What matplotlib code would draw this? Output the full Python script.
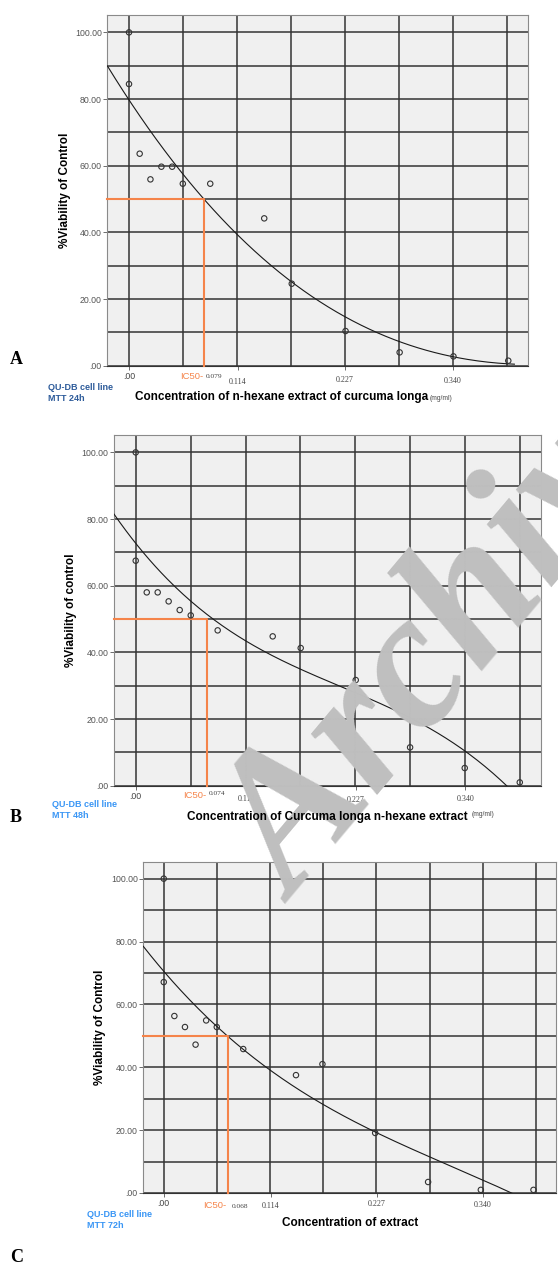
import matplotlib
matplotlib.use('Agg')
import matplotlib.pyplot as plt
import numpy as np

W, H, DPI = 558, 1264, 100

# 数据
conc_a = [0, 0, 0.0112, 0.0225, 0.034, 0.0453, 0.0565, 0.0853, 0.142, 0.1709, 0.2274, 0.2842, 0.3407, 0.3983]
viab_a = [100, 84.5, 63.6, 55.9, 59.7, 59.7, 54.6, 54.6, 44.2, 24.6, 10.4, 4.0, 2.8, 1.5]
curve_a_x = [-0.0228, 0, 0.079, 0.1134, 0.170, 0.227, 0.2597, 0.284, 0.3407, 0.398, 0.4047]
curve_a_y = [89.7, 80, 50, 39.7, 24.6, 14.9, 10, 7.2, 2.9, 0.7, 0.2]

conc_b = [0, 0, 0.0114, 0.0227, 0.034, 0.0454, 0.0568, 0.0846, 0.1414, 0.1703, 0.2271, 0.2832, 0.3396, 0.3964]
viab_b = [100, 67.5, 58.0, 58.0, 55.3, 52.7, 51.1, 46.6, 44.8, 41.3, 31.7, 11.5, 5.3, 1.0]
curve_b_x = [-0.0224, 0, 0.075, 0.1135, 0.148, 0.1703, 0.2065, 0.227, 0.283, 0.3396, 0.383]
curve_b_y = [81.7, 72.8, 50, 42.7, 39.5, 36.2, 30.2, 26.9, 20.0, 10.7, 0]

conc_c = [0, 0, 0.0113, 0.0226, 0.0339, 0.0452, 0.0565, 0.0847, 0.1409, 0.1691, 0.2253, 0.2817, 0.3379, 0.394]
viab_c = [100, 67.1, 56.3, 52.8, 47.2, 54.9, 52.8, 45.8, 37.5, 41.0, 19.1, 3.5, 1.0, 1.0]
curve_c_x = [-0.0218, 0, 0.0667, 0.1133, 0.169, 0.2253, 0.2817, 0.338, 0.371]
curve_c_y = [78.7, 70.3, 49.9, 39.5, 28.5, 19.1, 11.8, 4.3, 0]

ic50 = [0.079, 0.074, 0.068]
tick_vals = [0, 0.114, 0.227, 0.340]
tick_text = ['.00', '0.114', '0.227', '0.340']
ytick_vals = [0, 20, 40, 60, 80, 100]
ytick_text = ['.00', '20.00', '40.00', '60.00', '80.00', '100.00']
grid_x = [k * 0.34 / 6 for k in range(8)]
grid_y = list(range(0, 101, 10))

xlabels = ['Concentration of n-hexane extract of curcuma longa',
           'Concentration of Curcuma longa n-hexane extract',
           'Concentration of extract']
ylabels = ['%Viability of Control', '%Viability of control', '%Viability of Control']
cell_text = ['QU-DB cell line\nMTT 24h', 'QU-DB cell line\nMTT 48h', 'QU-DB cell line\nMTT 72h']
panel_letters = ['A', 'B', 'C']

# 版面 (像素)
boxes = [(107.3, 14.7, 528, 365.7), (114, 434.7, 540.7, 785.7), (143.3, 862, 556, 1193)]
xlims = [(-0.0228, 0.419), (-0.0224, 0.418), (-0.0218, 0.418)]
tick_dy = [[11, 16, 14, 15], [11, 13, 14, 13], [10, 13, 11, 12]]
ic_dy = [11, 10, 13]
cell_color = ['#2d5b9a', '#3a96f5', '#3a96f5']
cell_pos = [(48, 383), (52, 800), (87, 1210)]
letter_y = [359, 818, 1257]
xlab_pos = [(135, 397, 'left'), (187, 816.7, 'left'), (350, 1222.7, 'center')]
unit = ['low', 'high', None]
ylab_x = [71, 77, 106]

ORANGE = '#f5844a'
SANS = ['Liberation Sans', 'DejaVu Sans']
SERIF = ['Liberation Serif', 'DejaVu Serif']

fig = plt.figure(figsize=(W / DPI, H / DPI), dpi=DPI)

data = [(conc_a, viab_a, curve_a_x, curve_a_y),
        (conc_b, viab_b, curve_b_x, curve_b_y),
        (conc_c, viab_c, curve_c_x, curve_c_y)]

for i, (cx, cy, kx, ky) in enumerate(data):
    l, t, r, b = boxes[i]
    ax = fig.add_axes([l / W, 1 - b / H, (r - l) / W, (b - t) / H])
    ax.set_facecolor('#f0f0f0')
    ax.set_xlim(*xlims[i])
    ax.set_ylim(0, 105.3)

    for gx in grid_x:
        ax.axvline(gx, color='#333333', lw=1.1, zorder=1)
    for gy in grid_y:
        ax.axhline(gy, color='#333333', lw=1.1, zorder=1)

    # 拟合曲线
    p = np.polyfit(kx, ky, 3)
    xs = np.linspace(kx[0], kx[-1], 200)
    ax.plot(xs, np.polyval(p, xs), color='#1a1a1a', lw=0.8, zorder=3)

    ax.scatter(cx, cy, s=15, facecolors='none', edgecolors='#333333', linewidths=0.8, zorder=4)

    # IC50
    x50 = ic50[i]
    ax.plot([xlims[i][0], x50, x50], [50, 50, 0], color=ORANGE, lw=1.5, zorder=3, clip_on=False)

    ax.set_yticks(ytick_vals)
    ax.set_yticklabels(ytick_text, fontsize=6.3, color='#555555', family=SANS)
    ax.tick_params(axis='y', length=3, width=0.6, pad=1, color='#555555')
    ax.set_xticks(tick_vals)
    ax.set_xticklabels([])
    ax.tick_params(axis='x', length=3, width=0.6, color='#555555')
    for s in ax.spines.values():
        s.set_color('#8a8a8a')
        s.set_linewidth(0.8)
    ax.spines['bottom'].set_color('#333333')

    for j, (tv, tt) in enumerate(zip(tick_vals, tick_text)):
        ax.annotate(tt, xy=(tv, 0), xycoords=('data', 'axes fraction'),
                    xytext=(0, -tick_dy[i][j] * 72 / DPI), textcoords='offset points',
                    ha='center', va='center', fontsize=5.8 if j else 6.3, color='#444444',
                    family=SERIF if j else SANS)
    ax.annotate('IC50-', xy=(x50, 0), xycoords=('data', 'axes fraction'),
                xytext=(-1, -ic_dy[i] * 72 / DPI), textcoords='offset points',
                ha='right', va='center', fontsize=6.8, color=ORANGE, family=SANS)
    ax.annotate('%.3f' % x50, xy=(x50, 0), xycoords=('data', 'axes fraction'),
                xytext=(3 if i == 2 else 1, -(ic_dy[i] - (2 if i == 1 else 0)) * 72 / DPI),
                textcoords='offset points', ha='left', va='center', fontsize=5.3,
                color='#444444', family=SERIF)

    ax.set_ylabel(ylabels[i], fontsize=8.5, fontweight='bold', family=SANS)
    ax.yaxis.set_label_coords((ylab_x[i] - l) / (r - l), 0.5)

    xl, yl, ha = xlab_pos[i]
    lab = fig.text(xl / W, 1 - yl / H, xlabels[i], ha=ha, va='center',
                   fontsize=8.5, fontweight='bold', family=SANS, zorder=3)
    if unit[i] == 'low':
        fig.add_artist(plt.Annotation('(mg/ml)', xy=(1, 0.1), xycoords=lab, xytext=(1, 0),
                                      textcoords='offset points', ha='left', va='bottom',
                                      fontsize=4.8, color='#444444', family=SANS))
    elif unit[i] == 'high':
        fig.add_artist(plt.Annotation('(mg/ml)', xy=(1, 0.95), xycoords=lab, xytext=(3, 0),
                                      textcoords='offset points', ha='left', va='top',
                                      fontsize=4.8, color='#444444', family=SANS))

    fig.text(cell_pos[i][0] / W, 1 - cell_pos[i][1] / H, cell_text[i], ha='left', va='top',
             fontsize=6.5, fontweight='bold', color=cell_color[i], family=SANS, linespacing=1.3)

    fig.text(10 / W, 1 - letter_y[i] / H, panel_letters[i], ha='left', va='center',
             fontsize=13, fontweight='bold', family=SERIF)

# 水印
fig.text(296 / W, 1 - 905 / H, 'Archive', rotation=50, rotation_mode='anchor',
         ha='left', va='baseline', fontsize=140, fontweight='bold', style='italic',
         family=SERIF, color='#bfbfbf', zorder=1)

fig.savefig('out.png', dpi=DPI)
